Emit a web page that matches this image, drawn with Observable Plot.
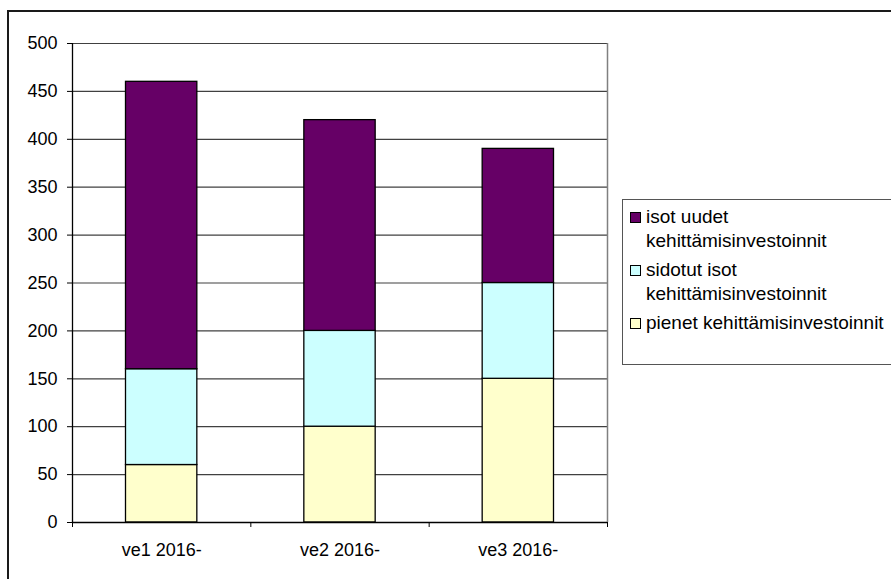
<!DOCTYPE html>
<html>
<head>
<meta charset="utf-8">
<script src="https://cdn.jsdelivr.net/npm/d3@7"></script>
<script src="https://cdn.jsdelivr.net/npm/@observablehq/plot@0.6"></script>
<style>
  html, body { margin: 0; padding: 0; background: #fff; overflow: hidden; }
  #wrap { position: relative; width: 891px; height: 579px; overflow: hidden; font-family: 'Liberation Sans', Arial, sans-serif; }
  #wrap svg { position: absolute; left: 0; top: 0; }
  #frame { position: absolute; left: 7px; top: 10px; width: 1000px; height: 1000px; border-left: 2px solid #1a1a1a; border-top: 2px solid #1a1a1a; box-sizing: border-box; }
  #legend { position: absolute; left: 622px; top: 199px; width: 400px; height: 166px; border: 1.5px solid #555; box-sizing: border-box; padding-top: 5px; }
  .entry { position: relative; padding-left: 23px; width: 255px; font-size: 19px; line-height: 24px; margin-bottom: 5px; color: #000; }
  .sw { position: absolute; left: 7px; top: 7px; width: 11px; height: 11px; border: 1px solid #000; box-sizing: border-box; }
</style>
</head>
<body>
<div id="wrap">
  <div id="frame"></div>
  <div id="legend"></div>
</div>
<script>
const categories = ["ve1 2016-", "ve2 2016-", "ve3 2016-"];
const pienet = [60, 100, 150];
const sidotut = [100, 100, 100];
const isot = [300, 220, 140];
const seriesNames = ["pienet kehittämisinvestoinnit", "sidotut isot kehittämisinvestoinnit", "isot uudet kehittämisinvestoinnit"];
const seriesColors = ["#ffffcc", "#ccffff", "#660066"];
const yTicks = [0, 50, 100, 150, 200, 250, 300, 350, 400, 450, 500];

const seriesValues = [pienet, sidotut, isot];
const rows = [];
categories.forEach((c, i) => {
  let base = 0;
  seriesValues.forEach((vals, s) => {
    rows.push({x1: i, x2: i + 1, y1: base, y2: base + vals[i], series: seriesNames[s]});
    base += vals[i];
  });
});

const plot = Plot.plot({
  width: 891,
  height: 579,
  marginLeft: 72,
  marginRight: 284,
  marginTop: 43,
  marginBottom: 57,
  style: {fontFamily: "'Liberation Sans', Arial, sans-serif", fontSize: "18px", color: "#000", background: "transparent", overflow: "visible"},
  x: {domain: [0, categories.length], axis: null},
  y: {domain: [0, 500], axis: null},
  color: {domain: seriesNames, range: seriesColors},
  marks: [
    Plot.ruleY(yTicks.filter(v => v > 0), {stroke: "#404040", strokeWidth: 1.2}),
    Plot.ruleX([categories.length], {stroke: "#808080", strokeWidth: 1.5}),
    Plot.rectY(rows, {x1: "x1", x2: "x2", y1: "y1", y2: "y2", fill: "series", stroke: "#000", strokeWidth: 1.3, insetLeft: 53.5, insetRight: 53.5}),
    Plot.ruleX([0], {stroke: "#000", strokeWidth: 1.3}),
    Plot.ruleY([0], {stroke: "#000", strokeWidth: 1.3}),
    Plot.axisY({ticks: yTicks, tickSize: 5, tickPadding: 10, tickFormat: d => String(d), fontSize: 18, stroke: "#000"}),
    Plot.axisX({ticks: d3.range(categories.length + 1), tickSize: 5, tickFormat: () => "", stroke: "#000"}),
    Plot.axisX({ticks: categories.map((c, i) => i + 0.5), tickSize: 0, tickPadding: 21, fontSize: 18, tickFormat: v => categories[Math.floor(v)]})
  ]
});
document.getElementById("wrap").insertBefore(plot, document.getElementById("frame"));

// Legend (top entry = top of stack)
const legend = document.getElementById("legend");
for (let s = seriesNames.length - 1; s >= 0; s--) {
  const e = document.createElement("div");
  e.className = "entry";
  const sw = document.createElement("span");
  sw.className = "sw";
  sw.style.background = seriesColors[s];
  e.appendChild(sw);
  e.appendChild(document.createTextNode(seriesNames[s]));
  legend.appendChild(e);
}
</script>
</body>
</html>
